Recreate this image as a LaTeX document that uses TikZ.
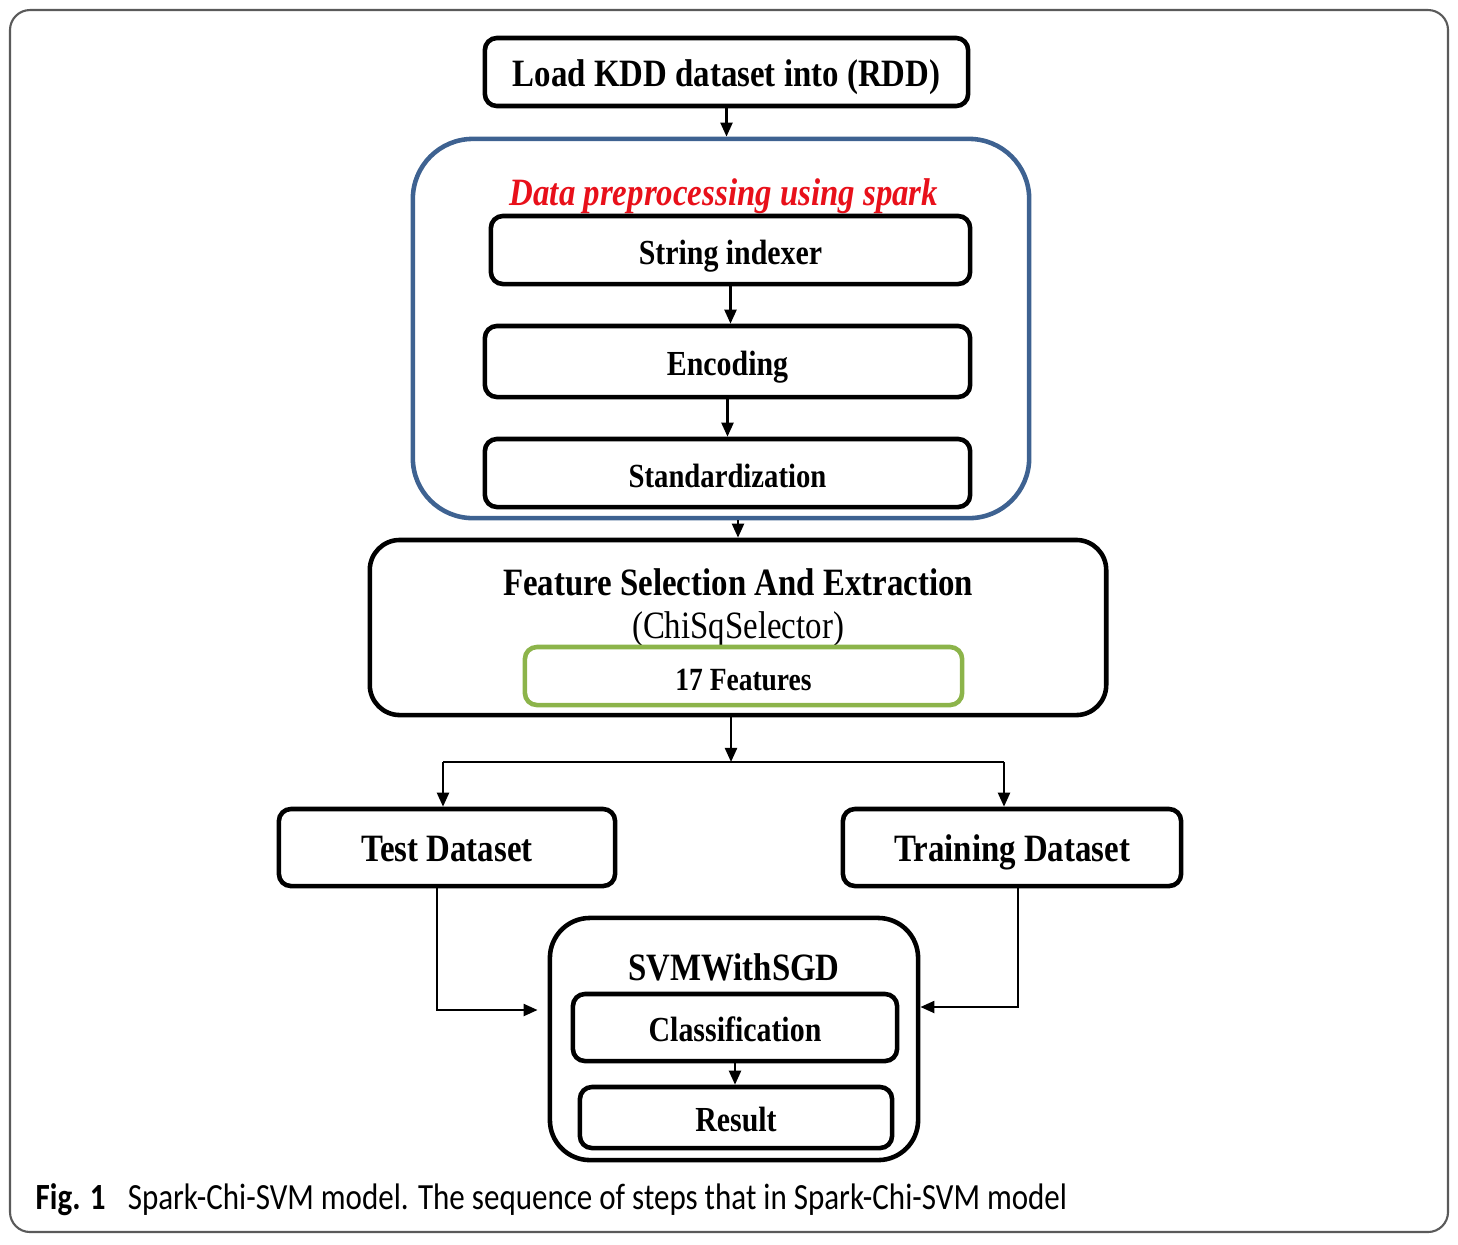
\documentclass[tikz,border=0pt]{standalone}
\usepackage{fontspec}
\usepackage{tikz}
\usepackage{xcolor}
\usetikzlibrary{arrows.meta}
\setmainfont[FakeStretch=0.85]{Liberation Serif}
\newfontfamily\capfont[FakeStretch=0.84]{Carlito}
\definecolor{prepblue}{RGB}{62,98,145}
\definecolor{featgreen}{RGB}{140,180,74}
\definecolor{titlered}{RGB}{232,16,26}
\definecolor{framegray}{RGB}{90,90,90}
\newcommand{\fs}[1]{\fontsize{#1}{#1}\selectfont}

\begin{document}
\begin{tikzpicture}[x=0.01cm, y=-0.01cm]
\tikzset{stepbox/.style={draw, line width=1.3pt, rounded corners=0.12cm, inner sep=0pt, text height=1.95ex, text depth=0.2ex, font=\bfseries\fs{11}},
	group/.style={draw, line width=1.3pt, inner sep=0pt},
	label/.style={inner sep=0pt, text height=1.95ex, text depth=0.2ex},
	arr/.style={-{Triangle[length=4pt,width=3.4pt]}, line width=0.7pt}}
\useasboundingbox (0,0) rectangle (1458,1244);
\draw[framegray, line width=0.6pt, rounded corners=0.2cm] (10,10) rectangle (1448,1232);

\node[stepbox, minimum width=4.83cm, minimum height=0.68cm] (load) at (726.5,72) {Load KDD dataset into (RDD)};

% preprocessing group
\node[group, draw=prepblue, minimum width=6.16cm, minimum height=3.79cm, rounded corners=0.6cm] (prep) at (721,328.5) {};
\node[label, text=titlered, font=\bfseries\itshape\fs{11}] (title) at (724,191) {Data preprocessing using spark};
\node[stepbox, minimum width=4.79cm, minimum height=0.68cm, font=\bfseries\fs{10}] (index) at (730.5,250) {String indexer};
\node[stepbox, minimum width=4.85cm, minimum height=0.71cm, font=\bfseries\fs{10}] (enc) at (727.5,361.5) {Encoding};
\node[stepbox, minimum width=4.85cm, minimum height=0.68cm, font=\bfseries\fs{9.6}] (std) at (727.5,473) {Standardization};

% feature selection
\node[group, minimum width=7.36cm, minimum height=1.75cm, rounded corners=0.3cm] (feat) at (738,627.5) {};
\node[label, font=\bfseries\fs{11}] (fstitle) at (738,581) {Feature Selection And Extraction};
\node[label, font=\fs{11}] (chisq) at (738,624) {(ChiSqSelector)};
\node[stepbox, draw=featgreen, minimum width=4.37cm, minimum height=0.58cm, font=\bfseries\fs{9.2}] (k17) at (743.5,676) {17 Features};

\coordinate (split) at (731,762);
\coordinate (lft) at (443,762);
\coordinate (rgt) at (1004,762);

\node[stepbox, minimum width=3.36cm, minimum height=0.77cm] (test) at (447,847.5) {Test Dataset};
\node[stepbox, minimum width=3.38cm, minimum height=0.77cm] (train) at (1012,847.5) {Training Dataset};

% classifier
\node[group, minimum width=3.68cm, minimum height=2.42cm, rounded corners=0.4cm] (svm) at (734,1039) {};
\node[label, font=\bfseries\fs{11}] (svmtitle) at (734,966) {SVMWithSGD};
\node[stepbox, minimum width=3.24cm, minimum height=0.67cm, font=\bfseries\fs{10}] (cls) at (735,1027.5) {Classification};
\node[stepbox, minimum width=3.12cm, minimum height=0.61cm, font=\bfseries\fs{10}] (res) at (736,1117.5) {Result};

\foreach \from/\to in {load/prep,index/enc,enc/std,cls/res}
{
	\draw[arr] (\from.south) -- (\from.south |- \to.north);
}
\draw[arr] (prep.south -| feat.north) -- (feat.north);
\draw[arr] (feat.south -| split) -- (split);
\draw[line width=0.7pt] (lft) -- (rgt);
\draw[arr] (lft) -- (lft |- test.north);
\draw[arr] (rgt) -- (rgt |- train.north);
\draw[arr, shorten >=0.1cm] ([xshift=-0.1cm]test.south) |- ([yshift=0.29cm]svm.west);
\draw[arr] ([xshift=0.06cm]train.south) |- ([yshift=0.32cm]svm.east);

\node[label, anchor=west, font=\capfont\fs{10.5}] (caption) at (35,1195) {\textbf{Fig. 1}\hspace{0.6em}Spark-Chi-SVM model. The sequence of steps that in Spark-Chi-SVM model};
\end{tikzpicture}
\end{document}
